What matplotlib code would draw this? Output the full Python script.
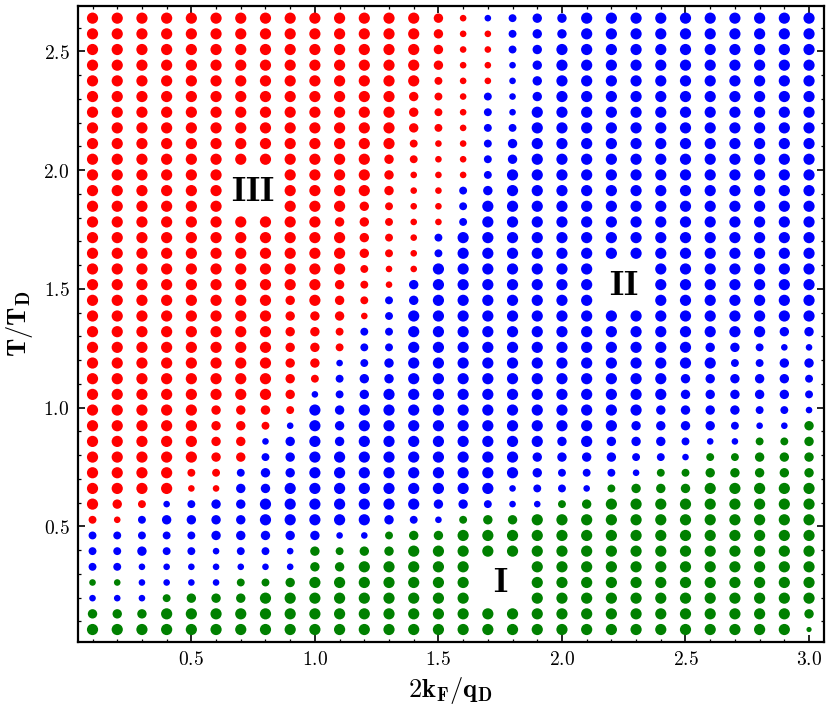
import matplotlib
matplotlib.use("Agg")
import matplotlib.pyplot as plt
from matplotlib.ticker import MultipleLocator

plt.rcParams['mathtext.fontset'] = 'cm'

# ---------------- data ----------------
x_vals = [0.1, 0.2, 0.3, 0.4, 0.5, 0.6, 0.7, 0.8, 0.9, 1.0,
          1.1, 1.2, 1.3, 1.4, 1.5, 1.6, 1.7, 1.8, 1.9, 2.0,
          2.1, 2.2, 2.3, 2.4, 2.5, 2.6, 2.7, 2.8, 2.9, 3.0]

# T/T_D values, bottom row to top row
T_vals = [0.066, 0.132, 0.198, 0.264, 0.330, 0.396, 0.462, 0.528, 0.594, 0.660,
          0.726, 0.792, 0.858, 0.924, 0.990, 1.056, 1.122, 1.188, 1.254, 1.320,
          1.386, 1.452, 1.518, 1.584, 1.650, 1.716, 1.782, 1.848, 1.914, 1.980,
          2.046, 2.112, 2.178, 2.244, 2.310, 2.376, 2.442, 2.508, 2.574, 2.640]

# phase of each point (R = III, B = II, G = I, '.' = no point); top row first
phase_rows = [
    "RRRRRRRRRR" "RRRRRRBBBB" "BBBBBBBBBB",  # 2.640
    "RRRRRRRRRR" "RRRRRRRBBB" "BBBBBBBBBB",  # 2.574
    "RRRRRRRRRR" "RRRRRRRBBB" "BBBBBBBBBB",
    "RRRRRRRRRR" "RRRRRRRBBB" "BBBBBBBBBB",
    "RRRRRRRRRR" "RRRRRRRBBB" "BBBBBBBBBB",
    "RRRRRRRRRR" "RRRRRRBBBB" "BBBBBBBBBB",
    "RRRRRRRRRR" "RRRRRRBBBB" "BBBBBBBBBB",
    "RRRRRRRRRR" "RRRRRRBBBB" "BBBBBBBBBB",
    "RRRRRRRRRR" "RRRRRRBBBB" "BBBBBBBBBB",
    "RRRRRRRRRR" "RRRRRRBBBB" "BBBBBBBBBB",
    "RRRRRR..RR" "RRRRRRBBBB" "BBBBBBBBBB",
    "RRRRRR..RR" "RRRRRBBBBB" "BBBBBBBBBB",
    "RRRRRR..RR" "RRRRRBBBBB" "BBBBBBBBBB",
    "RRRRRRRRRR" "RRRRRBBBBB" "BBBBBBBBBB",
    "RRRRRRRRRR" "RRRRBBBBBB" "BBBBBBBBBB",
    "RRRRRRRRRR" "RRRRBBBBBB" "BBBBBBBBBB",
    "RRRRRRRRRR" "RRRRBBBBBB" "B..BBBBBBB",
    "RRRRRRRRRR" "RRRBBBBBBB" "B..BBBBBBB",
    "RRRRRRRRRR" "RRBBBBBBBB" "B..BBBBBBB",
    "RRRRRRRRRR" "RRBBBBBBBB" "BBBBBBBBBB",
    "RRRRRRRRRR" "RBBBBBBBBB" "BBBBBBBBBB",
    "RRRRRRRRRR" "RBBBBBBBBB" "BBBBBBBBBB",
    "RRRRRRRRRR" "BBBBBBBBBB" "BBBBBBBBBB",
    "RRRRRRRRRR" "BBBBBBBBBB" "BBBBBBBBBB",
    "RRRRRRRRRB" "BBBBBBBBBB" "BBBBBBBBBB",
    "RRRRRRRRRB" "BBBBBBBBBB" "BBBBBBBBBB",
    "RRRRRRRRBB" "BBBBBBBBBB" "BBBBBBBBBG",
    "RRRRRRRBBB" "BBBBBBBBBB" "BBBBBBBGGG",
    "RRRRRRRBBB" "BBBBBBBBBB" "BBBBBGGGGG",
    "RRRRRRBBBB" "BBBBBBBBBB" "BBBGGGGGGG",
    "RRRRRRBBBB" "BBBBBBBBBB" "BGGGGGGGGG",
    "RRRBBBBBBB" "BBBBBBBBBG" "GGGGGGGGGG",
    "RRBBBBBBBB" "BBBBBGGGGG" "GGGGGGGGGG",
    "BBBBBBBBBB" "BBGGGGGGGG" "GGGGGGGGGG",
    "BBBBBBBBBG" "GGGGGGGGGG" "GGGGGGGGGG",
    "BBBBBBBBBG" "GGGGGG..GG" "GGGGGGGGGG",
    "GGBBBBGGGG" "GGGGGG..GG" "GGGGGGGGGG",
    "BBBGGGGGGG" "GGGGGG..GG" "GGGGGGGGGG",
    "GGGGGGGGGG" "GGGGGGGGGG" "GGGGGGGGGG",
    "GGGGGGGGGG" "GGGGGGGGGG" "GGGGGGGGGG",  # 0.066
]

# relative dot size (1 = smallest ... 5 = largest); top row first
size_rows = [
    "5555555555" "5555422344" "5555555555",
    "5555555555" "5555422344" "5555555555",
    "5555555555" "5555422345" "5555555555",
    "5555555555" "5555422245" "5555555555",
    "5555555555" "5555322245" "5555555555",
    "5555555555" "5554323245" "5555555555",
    "5555555555" "5554323255" "5555555555",
    "5555555555" "5554323355" "5555555555",
    "5555555555" "5553223455" "5555555555",
    "5555555555" "5543223455" "5555555555",
    "5555550055" "5542223555" "5555555555",
    "5555550055" "5542234555" "5555555555",
    "5555550055" "5432235555" "5555555555",
    "5555555555" "4432235555" "5555555555",
    "5555555555" "5432355555" "5555555555",
    "5555555555" "5432355555" "5555555555",
    "5555555555" "5322555555" "5005555555",
    "5555555555" "4324555555" "5005555555",
    "5555555545" "4334555555" "5005555555",
    "5555555544" "4235555555" "5555555555",
    "5555555544" "3335555555" "5555555544",
    "5555555544" "3335555555" "5555544322",
    "5555555544" "2345555555" "5555553344",
    "5555555543" "3445555555" "5555444443",
    "5555555542" "3455555555" "5555444443",
    "5555544435" "4555555555" "5554444332",
    "5555544325" "4555555555" "5544443224",
    "5555544245" "4555555554" "5444322334",
    "5555544345" "5555555544" "4433233444",
    "5555333445" "5555555543" "3323344444",
    "5555224455" "5555555233" "2344455555",
    "5432344555" "5555443223" "4555555555",
    "3234444555" "5543234455" "5555555555",
    "3333344444" "2234455555" "5555555555",
    "3343323324" "3445555555" "5555555555",
    "3322222224" "4555550055" "5555555555",
    "2222223345" "5555550055" "5555555555",
    "2223444555" "5555550055" "5555555555",
    "4445555555" "5555555555" "5555555554",
    "5555555555" "5555555555" "5555555551",
]

phase_colors = {"R": "#ff0000", "B": "#0000ff", "G": "#008000"}
region_labels = ["III", "II", "I"]
region_x = [0.75, 2.25, 1.75]
region_y = [1.914, 1.518, 0.264]

xtick_vals = [0.5, 1.0, 1.5, 2.0, 2.5, 3.0]
xtick_labels = ["0.5", "1.0", "1.5", "2.0", "2.5", "3.0"]
ytick_vals = [0.5, 1.0, 1.5, 2.0, 2.5]
ytick_labels = ["0.5", "1.0", "1.5", "2.0", "2.5"]

# ---------------- style ----------------
DPI = 100
dot_diam_px = {1: 5.2, 2: 6.6, 3: 7.9, 4: 9.4, 5: 11.2}

fig = plt.figure(figsize=(8.31, 7.12), dpi=DPI)
ax = fig.add_axes([0.0935, 0.0987, 0.8985, 0.8933])

xs, ys, cs, ss = [], [], [], []
n_rows = len(T_vals)
for i, (prow, srow) in enumerate(zip(phase_rows, size_rows)):
    T = T_vals[n_rows - 1 - i]
    for j, (p, s) in enumerate(zip(prow, srow)):
        if p == ".":
            continue
        xs.append(x_vals[j])
        ys.append(T)
        cs.append(phase_colors[p])
        d_pt = dot_diam_px[int(s)] * 72.0 / DPI
        ss.append(d_pt ** 2)

ax.scatter(xs, ys, s=ss, c=cs, linewidths=0, zorder=2)

for lab, lx, ly in zip(region_labels, region_x, region_y):
    ax.text(lx, ly, r"$\mathbf{%s}$" % lab, fontsize=26, ha="center",
            va="center", color="black", zorder=3)

ax.set_xlim(0.04, 3.062)
ax.set_ylim(0.0146, 2.6925)

ax.set_xticks(xtick_vals)
ax.set_xticklabels(["$%s$" % t for t in xtick_labels])
ax.set_yticks(ytick_vals)
ax.set_yticklabels(["$%s$" % t for t in ytick_labels])
ax.xaxis.set_minor_locator(MultipleLocator(0.1))
ax.yaxis.set_minor_locator(MultipleLocator(0.1))

ax.tick_params(which="both", direction="in", top=True, right=True,
               labelsize=14)
ax.tick_params(which="major", length=5, width=1.2, pad=6)
ax.tick_params(which="minor", length=2.5, width=0.9)
for sp in ax.spines.values():
    sp.set_linewidth(1.6)

ax.set_xlabel(r"$\mathbf{2k_F/q_D}$", fontsize=19, labelpad=4)
ax.set_ylabel(r"$\mathbf{T/T_D}$", fontsize=19, labelpad=6)

fig.savefig("out.png", dpi=DPI)
